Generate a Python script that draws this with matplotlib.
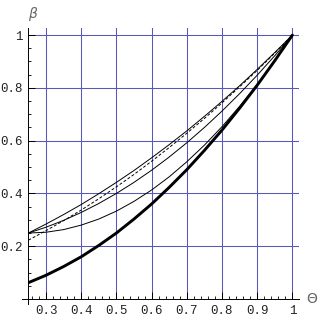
import numpy as np
import matplotlib.pyplot as plt
from matplotlib.ticker import MultipleLocator

theta = [0.25, 0.30, 0.35, 0.40, 0.45, 0.50, 0.55, 0.60,
         0.65, 0.70, 0.75, 0.80, 0.85, 0.90, 0.95, 1.00]
beta_thick = [0.062, 0.090, 0.123, 0.160, 0.203, 0.250, 0.303, 0.360,
              0.423, 0.490, 0.563, 0.640, 0.723, 0.810, 0.903, 1.000]
beta_low = [0.250, 0.253, 0.263, 0.280, 0.303, 0.333, 0.370, 0.413,
            0.463, 0.520, 0.583, 0.653, 0.730, 0.813, 0.903, 1.000]
beta_mid = [0.250, 0.272, 0.298, 0.328, 0.362, 0.400, 0.442, 0.488,
            0.538, 0.592, 0.650, 0.712, 0.778, 0.848, 0.922, 1.000]
beta_top = [0.250, 0.284, 0.320, 0.358, 0.399, 0.442, 0.487, 0.535,
            0.585, 0.637, 0.692, 0.749, 0.808, 0.870, 0.934, 1.000]
beta_dash = [0.223, 0.259, 0.297, 0.337, 0.380, 0.425, 0.472, 0.522,
             0.574, 0.628, 0.684, 0.743, 0.804, 0.866, 0.932, 1.000]

x_ticks = [0.3, 0.4, 0.5, 0.6, 0.7, 0.8, 0.9, 1.0]
x_labels = ["0.3", "0.4", "0.5", "0.6", "0.7", "0.8", "0.9", "1"]
y_ticks = [0.2, 0.4, 0.6, 0.8, 1.0]
y_labels = ["0.2", "0.4", "0.6", "0.8", "1"]

fig = plt.figure(figsize=(3.2, 3.2), dpi=100)
ax = fig.add_axes([0.0888, 0.0656, 0.8447, 0.847])

ax.plot(theta, beta_thick, color="black", lw=2.1, solid_capstyle="round")
for b in (beta_low, beta_mid, beta_top):
    ax.plot(theta, b, color="black", lw=0.7)
ax.plot(theta, beta_dash, color="black", lw=0.7, dashes=(3, 2))

ax.set_xlim(0.25, 1.018)
ax.set_ylim(0, 1.027)

ax.set_xticks(x_ticks)
ax.set_xticklabels(x_labels)
ax.set_yticks(y_ticks)
ax.set_yticklabels(y_labels)
ax.xaxis.set_minor_locator(MultipleLocator(0.02))
ax.yaxis.set_minor_locator(MultipleLocator(0.05))
ax.tick_params(which="major", direction="in", length=5, width=0.7, pad=4)
ax.tick_params(which="minor", direction="in", length=2.5, width=0.6)
for lab in ax.get_xticklabels() + ax.get_yticklabels():
    lab.set_family("Liberation Mono")
    lab.set_fontsize(9)
    lab.set_color("#222222")

ax.grid(True, which="major", color="#5858b8", lw=0.75)
ax.set_axisbelow(True)

for side in ("top", "right"):
    ax.spines[side].set_visible(False)
for side in ("left", "bottom"):
    ax.spines[side].set_linewidth(0.7)

# short axis overhangs, as in the original
ax.plot([0.232, 0.25], [0, 0], color="black", lw=0.7, clip_on=False)
ax.plot([0.25, 0.25], [-0.018, 0], color="black", lw=0.7, clip_on=False)

fig.text(0.105, 0.955, r"$\beta$", color="#666666", fontsize=10,
         ha="center", va="center")
fig.text(0.975, 0.065, r"$\Theta$", color="#666666", fontsize=10,
         ha="center", va="center")

fig.savefig("out.png", dpi=100)
